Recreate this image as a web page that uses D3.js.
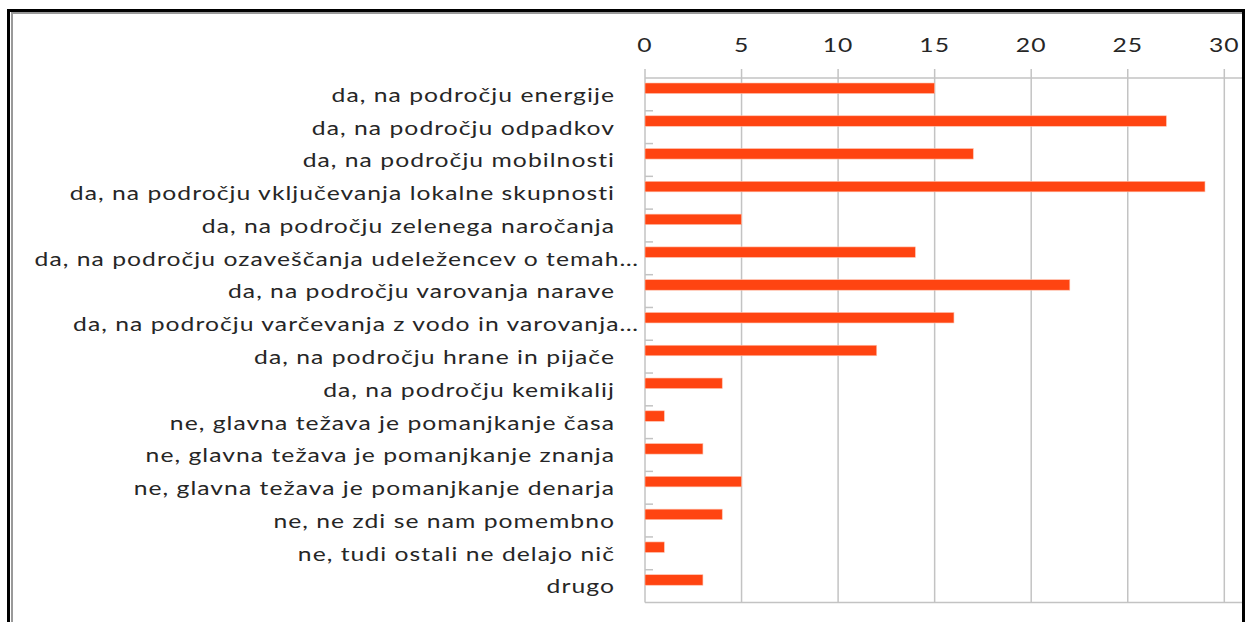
<!doctype html>
<html lang="sl">
<head>
  <meta charset="utf-8">
  <title>D3 Horizontal Bar Chart</title>
  <script src="https://d3js.org/d3.v7.min.js"></script>
  <style>
    body { margin: 0; background: #fff; }
    text { font-family: Lato, "Open Sans", sans-serif; fill: #262626; letter-spacing: 0.8px; }
  </style>
</head>
<body>
  <script type="text/javascript">
    // categories, top to bottom
    var categories = [
      "da, na področju energije",
      "da, na področju odpadkov",
      "da, na področju mobilnosti",
      "da, na področju vključevanja lokalne skupnosti",
      "da, na področju zelenega naročanja",
      "da, na področju ozaveščanja udeležencev o temah…",
      "da, na področju varovanja narave",
      "da, na področju varčevanja z vodo in varovanja…",
      "da, na področju hrane in pijače",
      "da, na področju kemikalij",
      "ne, glavna težava je pomanjkanje časa",
      "ne, glavna težava je pomanjkanje znanja",
      "ne, glavna težava je pomanjkanje denarja",
      "ne, ne zdi se nam pomembno",
      "ne, tudi ostali ne delajo nič",
      "drugo"
    ];

    var values = [15, 27, 17, 29, 5, 14, 22, 16, 12, 4, 1, 3, 5, 4, 1, 3];

    var tickValues = [0, 5, 10, 15, 20, 25, 30];

    var width = 1250;
    var height = 622;

    var plotLeft = 645, plotRight = 1242, plotTop = 78, plotBottom = 602.5;

    // the text in the original is stretched sideways
    var stretch = 1.3;

    var svg = d3.select("body")
      .append("svg")
      .attr("width", width)
      .attr("height", height);

    // x and y scales
    var x = d3.scaleLinear()
      .domain([0, 30])
      .range([plotLeft, 1224.3]);

    var y = d3.scaleBand()
      .domain(categories)
      .range([plotTop, plotBottom])
      .padding(0);

    var gridColor = "#c3c3c3";

    // vertical gridlines (they also stick out above the top line as ticks)
    svg.append("g")
      .selectAll("line")
      .data(tickValues)
      .join("line")
      .attr("x1", d => x(d))
      .attr("x2", d => x(d))
      .attr("y1", 69)
      .attr("y2", plotBottom)
      .attr("stroke", gridColor)
      .attr("stroke-width", 1.5);

    // top and bottom lines of the plot area
    svg.append("line")
      .attr("x1", plotLeft).attr("x2", plotRight)
      .attr("y1", plotTop).attr("y2", plotTop)
      .attr("stroke", gridColor).attr("stroke-width", 1.5);

    svg.append("line")
      .attr("x1", plotLeft).attr("x2", plotRight)
      .attr("y1", plotBottom).attr("y2", plotBottom)
      .attr("stroke", gridColor).attr("stroke-width", 1.5);

    // small category ticks on the left axis
    svg.append("g")
      .selectAll("line")
      .data(categories.slice(1))
      .join("line")
      .attr("x1", plotLeft)
      .attr("x2", plotLeft + 8)
      .attr("y1", d => y(d))
      .attr("y2", d => y(d))
      .attr("stroke", gridColor)
      .attr("stroke-width", 1.5);

    // bars
    svg.append("g")
      .selectAll("rect")
      .data(values)
      .join("rect")
      .attr("x", x(0))
      .attr("y", (d, i) => y(categories[i]) + 5)
      .attr("width", d => x(d) - x(0))
      .attr("height", 10.5)
      .attr("fill", "#ff4411")
      .attr("stroke", "#ffc2ad")
      .attr("stroke-width", 0.6);

    // top axis labels
    svg.append("g")
      .selectAll("text")
      .data(tickValues)
      .join("text")
      .attr("transform", d => "translate(" + x(d) + ",45) scale(" + stretch + ",1)")
      .attr("text-anchor", "middle")
      .attr("dominant-baseline", "central")
      .style("font-size", "19px")
      .text(d => d);

    // category labels (truncated ones sit closer to the axis)
    svg.append("g")
      .selectAll("text")
      .data(categories)
      .join("text")
      .attr("transform", d => "translate(" + (d.endsWith("…") ? 639 : 615) + "," +
        (y(d) + y.bandwidth() / 2) + ") scale(" + stretch + ",1)")
      .attr("text-anchor", "end")
      .attr("dominant-baseline", "central")
      .style("font-size", "19px")
      .text(d => d);

    // frame: gray inner line on the left and top, black outer line
    svg.append("path")
      .attr("d", "M12,630 L12,13 L1242,13")
      .attr("fill", "none")
      .attr("stroke", "#999")
      .attr("stroke-width", 2);

    svg.append("path")
      .attr("d", "M8.5,630 L8.5,10.5 L1243.5,10.5 L1243.5,630")
      .attr("fill", "none")
      .attr("stroke", "#000")
      .attr("stroke-width", 3);
  </script>
</body>
</html>
